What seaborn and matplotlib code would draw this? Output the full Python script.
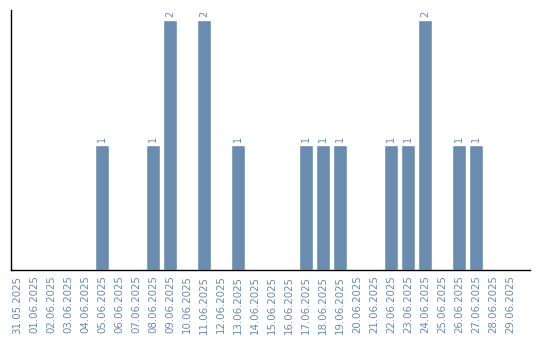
import matplotlib
matplotlib.use("Agg")
import matplotlib.pyplot as plt
import seaborn as sns
import pandas as pd

dates = ["31.05.2025", "01.06.2025", "02.06.2025", "03.06.2025", "04.06.2025",
         "05.06.2025", "06.06.2025", "07.06.2025", "08.06.2025", "09.06.2025",
         "10.06.2025", "11.06.2025", "12.06.2025", "13.06.2025", "14.06.2025",
         "15.06.2025", "16.06.2025", "17.06.2025", "18.06.2025", "19.06.2025",
         "20.06.2025", "21.06.2025", "22.06.2025", "23.06.2025", "24.06.2025",
         "25.06.2025", "26.06.2025", "27.06.2025", "28.06.2025", "29.06.2025"]
counts = [0, 0, 0, 0, 0,
          1, 0, 0, 1, 2,
          0, 2, 0, 1, 0,
          0, 0, 1, 1, 1,
          0, 0, 1, 1, 2,
          0, 1, 1, 0, 0]

sns.set_style("white")
plt.rcParams['font.family'] = ['DejaVu Sans']

bar_color = "#6a8caf"
df = pd.DataFrame({"date": dates, "count": counts})

fig = plt.figure(figsize=(5.4, 3.4), dpi=100)
ax = fig.add_axes([0.0198, 0.206, 0.9617, 0.7646])
sns.barplot(data=df, x="date", y="count", color=bar_color, saturation=1,
            width=0.82, ax=ax)

for i, v in enumerate(counts):
    if v > 0:
        ax.text(i, v + 0.02, str(v), rotation=90, ha="center", va="bottom",
                color=bar_color, fontsize=7)

ax.set_xlim(-0.37, 30.18)
ax.set_ylim(0, 2.08)
ax.set_xlabel("")
ax.set_ylabel("")
ax.set_yticks([])
ax.tick_params(axis="x", rotation=90, colors=bar_color, labelsize=7.4,
               length=0, pad=4)
for lbl in ax.get_xticklabels():
    lbl.set_color(bar_color)
for s in ["top", "right"]:
    ax.spines[s].set_visible(False)
for s in ["left", "bottom"]:
    ax.spines[s].set_color("black")
    ax.spines[s].set_linewidth(1.0)

fig.savefig("out.png", dpi=100)
